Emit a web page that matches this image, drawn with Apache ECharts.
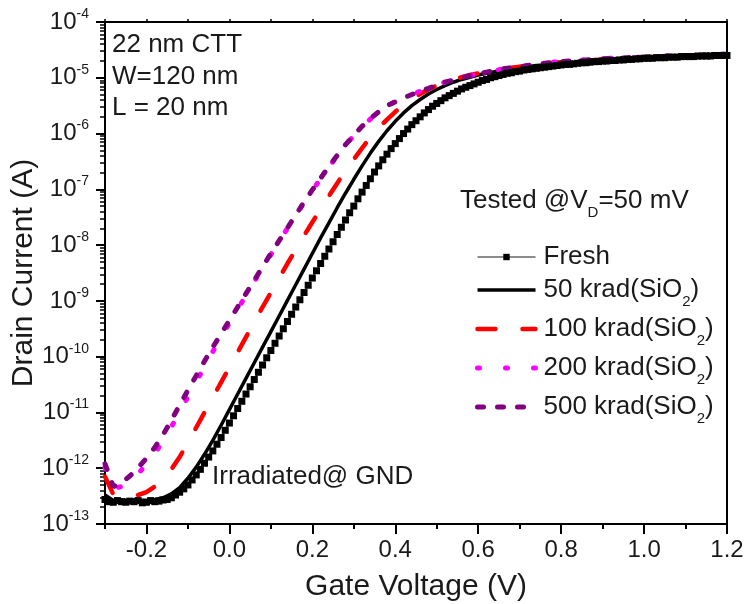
<!DOCTYPE html>
<html>
<head>
<meta charset="utf-8">
<title>Id-Vg under irradiation</title>
<script src="https://cdn.jsdelivr.net/npm/echarts@6.0.0/dist/echarts.min.js"></script>
<style>
  html, body { margin: 0; padding: 0; background: #fff; }
  #chart { width: 747px; height: 604px; }
</style>
</head>
<body>
<div id="chart"></div>
<script>
// gate voltage sweep: -0.3 V .. 1.2 V
var VG_START = -0.3
var FRESH_STEP = 0.01
var RAD_STEP = 0.02

// drain current as log10(I / A)
var freshLogI = [
  -12.56, -12.60, -12.61, -12.58, -12.60, -12.61, -12.59, -12.60, -12.58, -12.62,
  -12.61, -12.58, -12.60, -12.59, -12.57, -12.56, -12.53, -12.48, -12.43, -12.37,
  -12.30, -12.21, -12.12, -12.02, -11.91, -11.80, -11.69, -11.57, -11.45, -11.32,
  -11.19, -11.06, -10.93, -10.80, -10.67, -10.54, -10.41, -10.28, -10.15, -10.02,
  -9.89, -9.76, -9.63, -9.50, -9.37, -9.24, -9.11, -8.98, -8.85, -8.72,
  -8.59, -8.46, -8.33, -8.20, -8.07, -7.94, -7.81, -7.68, -7.55, -7.42,
  -7.30, -7.17, -7.05, -6.93, -6.81, -6.69, -6.58, -6.47, -6.37, -6.27,
  -6.18, -6.09, -6.00, -5.92, -5.84, -5.77, -5.70, -5.63, -5.57, -5.51,
  -5.46, -5.41, -5.36, -5.32, -5.28, -5.24, -5.20, -5.17, -5.14, -5.11,
  -5.08, -5.05, -5.03, -5.00, -4.98, -4.96, -4.94, -4.92, -4.91, -4.89,
  -4.88, -4.86, -4.85, -4.84, -4.83, -4.82, -4.81, -4.80, -4.79, -4.78,
  -4.77, -4.76, -4.76, -4.75, -4.74, -4.73, -4.73, -4.72, -4.71, -4.71,
  -4.70, -4.70, -4.69, -4.69, -4.68, -4.68, -4.67, -4.67, -4.66, -4.66,
  -4.65, -4.65, -4.65, -4.64, -4.64, -4.64, -4.63, -4.63, -4.63, -4.62,
  -4.62, -4.62, -4.62, -4.61, -4.61, -4.61, -4.61, -4.60, -4.60, -4.60,
  -4.60
]
var k50LogI = [
  -12.48, -12.58, -12.57, -12.58, -12.57, -12.58, -12.56, -12.53, -12.46, -12.35,
  -12.18, -11.98, -11.75, -11.50, -11.23, -10.95, -10.67, -10.39, -10.11, -9.83,
  -9.55, -9.27, -8.99, -8.71, -8.43, -8.15, -7.87, -7.60, -7.33, -7.07,
  -6.82, -6.58, -6.35, -6.14, -5.95, -5.78, -5.63, -5.50, -5.39, -5.29,
  -5.21, -5.14, -5.08, -5.03, -4.99, -4.95, -4.92, -4.89, -4.86, -4.84,
  -4.82, -4.80, -4.78, -4.77, -4.75, -4.74, -4.73, -4.72, -4.71, -4.70,
  -4.69, -4.68, -4.67, -4.66, -4.65, -4.65, -4.64, -4.63, -4.63, -4.62,
  -4.62, -4.61, -4.61, -4.60, -4.60, -4.59
]
var k100LogI = [
  -12.15, -12.47, -12.52, -12.51, -12.48, -12.43, -12.33, -12.19, -12.02, -11.80,
  -11.54, -11.27, -11.00, -10.73, -10.46, -10.19, -9.92, -9.65, -9.38, -9.11,
  -8.85, -8.59, -8.33, -8.08, -7.83, -7.59, -7.35, -7.12, -6.89, -6.67,
  -6.46, -6.26, -6.07, -5.90, -5.75, -5.61, -5.49, -5.38, -5.29, -5.21,
  -5.14, -5.08, -5.03, -4.99, -4.95, -4.92, -4.89, -4.86, -4.84, -4.82,
  -4.80, -4.78, -4.76, -4.75, -4.73, -4.72, -4.71, -4.70, -4.69, -4.68,
  -4.67, -4.66, -4.65, -4.65, -4.64, -4.63, -4.63, -4.62, -4.62, -4.61,
  -4.61, -4.60, -4.60, -4.59, -4.59, -4.58
]
var k200LogI = [
  -11.98, -12.36, -12.33, -12.23, -12.10, -11.93, -11.74, -11.51, -11.26, -10.99,
  -10.72, -10.45, -10.18, -9.91, -9.65, -9.40, -9.15, -8.90, -8.65, -8.41,
  -8.17, -7.93, -7.70, -7.47, -7.24, -7.02, -6.81, -6.60, -6.40, -6.21,
  -6.04, -5.88, -5.74, -5.62, -5.51, -5.43, -5.36, -5.30, -5.24, -5.19,
  -5.13, -5.08, -5.04, -5.00, -4.96, -4.93, -4.90, -4.87, -4.84, -4.82,
  -4.80, -4.78, -4.76, -4.74, -4.72, -4.71, -4.70, -4.69, -4.68, -4.67,
  -4.66, -4.65, -4.65, -4.64, -4.63, -4.63, -4.62, -4.62, -4.61, -4.61,
  -4.60, -4.60, -4.59, -4.59, -4.58, -4.58
]
var k500LogI = [
  -11.92, -12.33, -12.26, -12.14, -11.99, -11.82, -11.63, -11.40, -11.14, -10.87,
  -10.60, -10.34, -10.08, -9.83, -9.59, -9.35, -9.11, -8.87, -8.63, -8.39,
  -8.15, -7.92, -7.69, -7.46, -7.23, -7.01, -6.80, -6.59, -6.39, -6.20,
  -6.03, -5.87, -5.73, -5.61, -5.50, -5.43, -5.36, -5.30, -5.24, -5.19,
  -5.13, -5.08, -5.04, -5.00, -4.96, -4.93, -4.90, -4.87, -4.84, -4.82,
  -4.80, -4.78, -4.76, -4.74, -4.72, -4.71, -4.70, -4.69, -4.68, -4.67,
  -4.66, -4.65, -4.65, -4.64, -4.63, -4.63, -4.62, -4.62, -4.61, -4.61,
  -4.60, -4.60, -4.59, -4.59, -4.58, -4.58
]

var seriesNames = ['Fresh', '50 krad(SiO2)', '100 krad(SiO2)', '200 krad(SiO2)', '500 krad(SiO2)']
var xLabelValues = [-0.2, 0, 0.2, 0.4, 0.6, 0.8, 1.0, 1.2]
var yDecades = [-13, -12, -11, -10, -9, -8, -7, -6, -5, -4]

var FONT = "'Liberation Sans', Arial, Helvetica, sans-serif"
var TXT = '#1a1a1a'

function sweep(step, ys) {
  return ys.map(function (y, i) {
    return [+(VG_START + i * step).toFixed(2), y]
  })
}

// minor ticks of a log axis (2..9 inside every decade)
var minorTicks = []
yDecades.slice(0, -1).forEach(function (d) {
  for (var k = 2; k <= 9; k++) minorTicks.push(d + Math.log10(k))
})

// only Fresh shows a marker in the legend
var legendData = seriesNames.map(function (name, i) {
  return i === 0 ? { name: name } : { name: name, itemStyle: { opacity: 0 } }
})

var myChart = echarts.init(document.getElementById('chart'))

var option = {
  animation: false,
  backgroundColor: '#fff',
  grid: { left: 105, right: 20, top: 22, bottom: 80, outerBoundsMode: 'none', containLabel: false },
  legend: {
    orient: 'vertical',
    left: 475,
    top: 244,
    padding: 0,
    itemGap: 7,
    itemWidth: 58,
    itemHeight: 8,
    selectedMode: false,
    data: legendData,
    lineStyle: { width: 'inherit' },
    formatter: function (name) {
      if (name.indexOf('SiO2') < 0) return name
      return '{t|' + name.replace('SiO2)', 'SiO') + '}{sub|2}{t|)}'
    },
    textStyle: {
      fontSize: 26,
      color: TXT,
      fontFamily: FONT,
      padding: [0, 0, 0, 3],
      rich: {
        t: { fontSize: 26, lineHeight: 38, color: TXT, fontFamily: FONT },
        sub: { fontSize: 15, lineHeight: 15, verticalAlign: 'bottom', color: TXT, fontFamily: FONT }
      }
    }
  },
  xAxis: [
    {
      type: 'value',
      min: -0.3,
      max: 1.2,
      interval: 0.1,
      position: 'bottom',
      axisLine: { show: true, onZero: false, lineStyle: { color: '#000', width: 2 } },
      axisTick: { show: true, length: 5, lineStyle: { color: '#000', width: 2 } },
      axisLabel: {
        customValues: xLabelValues,
        formatter: function (v) { return v.toFixed(1) },
        fontSize: 24,
        color: TXT,
        fontFamily: FONT,
        margin: 14
      },
      splitLine: { show: false },
      name: 'Gate Voltage (V)',
      nameLocation: 'middle',
      nameGap: 48,
      nameMoveOverlap: false,
      nameTextStyle: { fontSize: 30, color: TXT, fontFamily: FONT }
    },
    {
      type: 'value',
      min: -0.3,
      max: 1.2,
      position: 'bottom',
      axisLine: { show: false, onZero: false },
      axisTick: { show: true, customValues: xLabelValues, length: 10, lineStyle: { color: '#000', width: 2 } },
      axisLabel: { show: false },
      splitLine: { show: false }
    },
    {
      type: 'value',
      min: -0.3,
      max: 1.2,
      interval: 0.1,
      position: 'top',
      axisLine: { show: true, onZero: false, lineStyle: { color: '#000', width: 2 } },
      axisTick: { show: true, length: 3, lineStyle: { color: '#000', width: 1.5 } },
      axisLabel: { show: false },
      splitLine: { show: false }
    }
  ],
  yAxis: [
    {
      type: 'value',
      min: -13,
      max: -4,
      interval: 1,
      position: 'left',
      axisLine: { show: true, onZero: false, lineStyle: { color: '#000', width: 2 } },
      axisTick: { show: true, length: 9, lineStyle: { color: '#000', width: 2 } },
      axisLabel: {
        formatter: function (v) { return '{b|10}{sup|' + v + '}' },
        margin: 16,
        rich: {
          b: { fontSize: 24, lineHeight: 30, color: TXT, fontFamily: FONT },
          sup: { fontSize: 14, lineHeight: 14, verticalAlign: 'top', color: TXT, fontFamily: FONT }
        }
      },
      splitLine: { show: false },
      name: 'Drain Current (A)',
      nameLocation: 'middle',
      nameRotate: 90,
      nameGap: 66,
      nameMoveOverlap: false,
      nameTextStyle: { fontSize: 30, color: TXT, fontFamily: FONT }
    },
    {
      type: 'value',
      min: -13,
      max: -4,
      position: 'left',
      axisLine: { show: false, onZero: false },
      axisTick: { show: true, customValues: minorTicks, length: 5, lineStyle: { color: '#000', width: 1.5 } },
      axisLabel: { show: false },
      splitLine: { show: false }
    },
    {
      type: 'value',
      min: -13,
      max: -4,
      position: 'right',
      axisLine: { show: true, onZero: false, lineStyle: { color: '#000', width: 2 } },
      axisTick: { show: false },
      axisLabel: { show: false },
      splitLine: { show: false }
    }
  ],
  graphic: [
    { type: 'text', left: 112, top: 32, style: { text: '22 nm CTT', fontSize: 26, fontFamily: FONT, fill: TXT } },
    { type: 'text', left: 112, top: 64, style: { text: 'W=120 nm', fontSize: 26, fontFamily: FONT, fill: TXT } },
    { type: 'text', left: 112, top: 95, style: { text: 'L = 20 nm', fontSize: 26, fontFamily: FONT, fill: TXT } },
    {
      type: 'text',
      left: 460,
      top: 188,
      style: {
        text: '{t|Tested @V}{sub|D}{t|=50 mV}',
        fill: TXT,
        rich: {
          t: { fontSize: 26, lineHeight: 38, fontFamily: FONT, fill: TXT },
          sub: { fontSize: 15, lineHeight: 15, verticalAlign: 'bottom', fontFamily: FONT, fill: TXT }
        }
      }
    },
    { type: 'text', left: 212, top: 464, style: { text: 'Irradiated@ GND', fontSize: 26, fontFamily: FONT, fill: TXT } }
  ],
  series: [
    {
      name: seriesNames[0],
      type: 'line',
      data: sweep(FRESH_STEP, freshLogI),
      symbol: 'rect',
      symbolSize: 7,
      itemStyle: { color: '#000' },
      lineStyle: { color: '#666', width: 1.5 }
    },
    {
      name: seriesNames[1],
      type: 'line',
      data: sweep(RAD_STEP, k50LogI),
      symbol: 'none',
      itemStyle: { color: '#000' },
      lineStyle: { color: '#000', width: 3.5 }
    },
    {
      name: seriesNames[2],
      type: 'line',
      data: sweep(RAD_STEP, k100LogI),
      symbol: 'none',
      itemStyle: { color: '#ff0000' },
      lineStyle: { color: '#ff0000', width: 4.5, type: [18, 27], cap: 'round' }
    },
    {
      name: seriesNames[3],
      type: 'line',
      data: sweep(RAD_STEP, k200LogI),
      symbol: 'none',
      itemStyle: { color: '#ff00ff' },
      lineStyle: { color: '#ff00ff', width: 5, type: [2, 26], cap: 'round' }
    },
    {
      name: seriesNames[4],
      type: 'line',
      data: sweep(RAD_STEP, k500LogI),
      symbol: 'none',
      itemStyle: { color: '#800080' },
      lineStyle: { color: '#800080', width: 5, type: [6, 14], cap: 'round' }
    }
  ]
}

myChart.setOption(option)
</script>
</body>
</html>
